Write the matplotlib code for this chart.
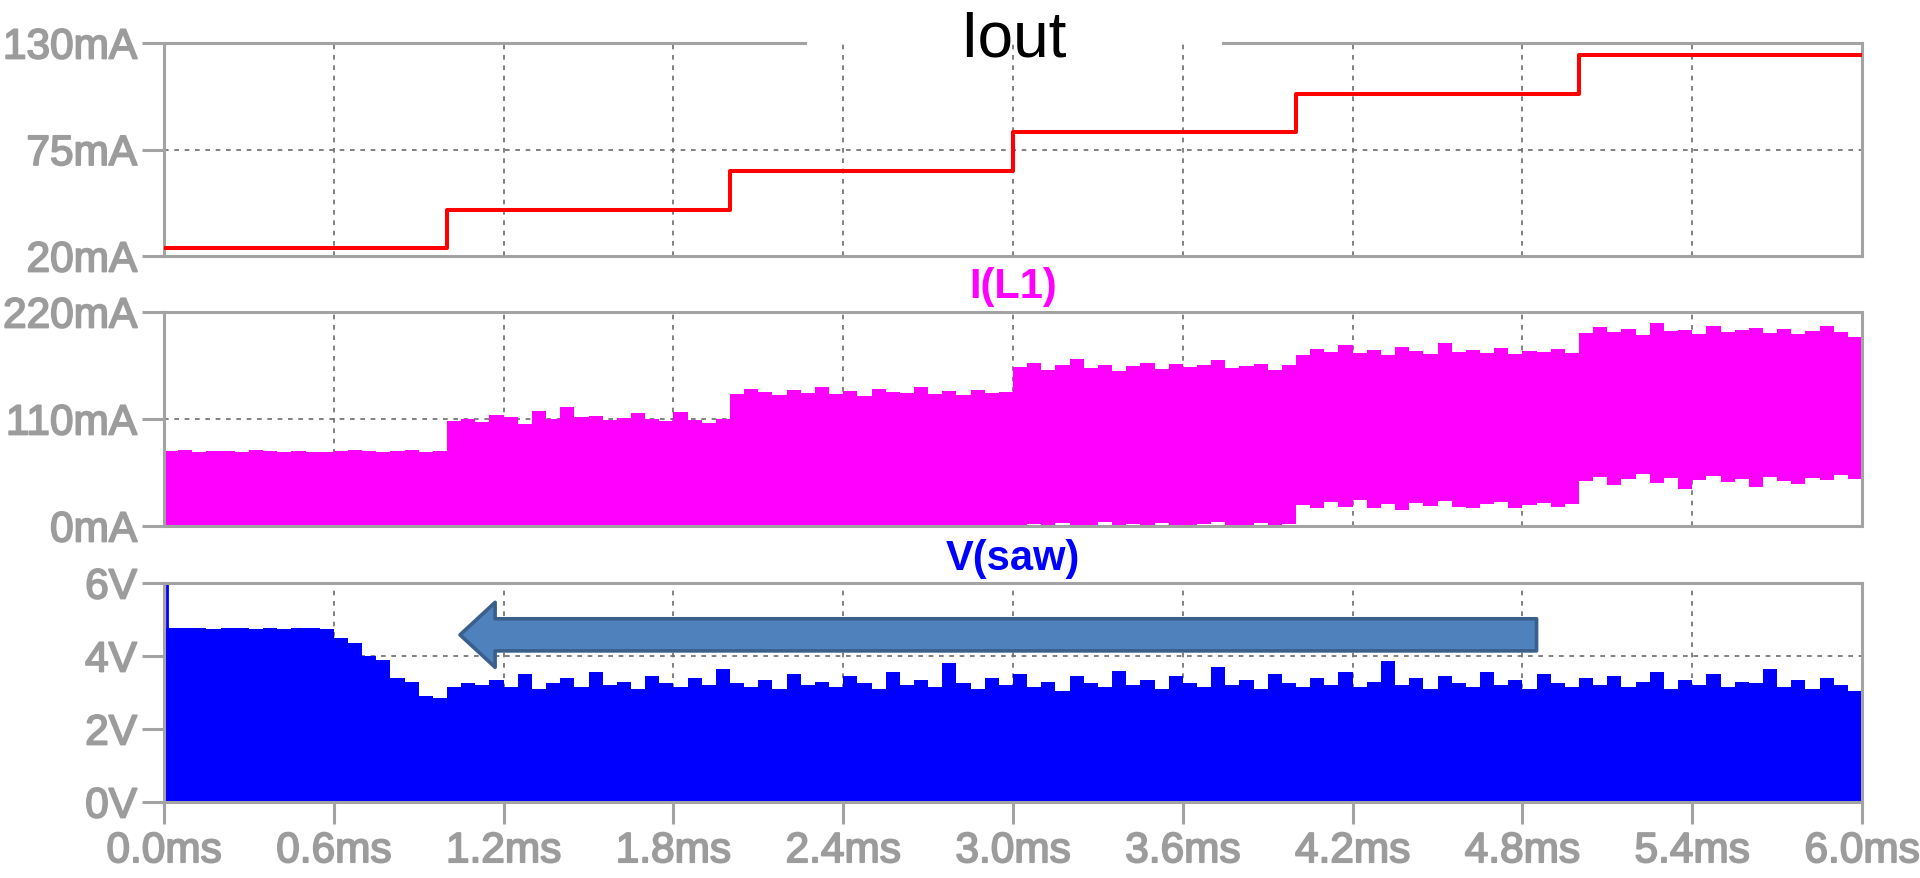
import numpy as np
import matplotlib.pyplot as plt
import matplotlib.patheffects as pe
from matplotlib.patches import FancyArrow

plt.rcParams['font.family'] = ['Liberation Sans', 'DejaVu Sans']

# time axis, ms
t_ticks = [0.0, 0.6, 1.2, 1.8, 2.4, 3.0, 3.6, 4.2, 4.8, 5.4, 6.0]
t_labels = ['0.0ms', '0.6ms', '1.2ms', '1.8ms', '2.4ms', '3.0ms',
            '3.6ms', '4.2ms', '4.8ms', '5.4ms', '6.0ms']

# Iout load steps (mA)
iout_t = [0, 1, 2, 3, 4, 5, 6]
iout_ma = [24.3, 44.0, 64.0, 84.0, 103.7, 123.6]
iout_ticks = [20, 75, 130]
iout_labels = ['20mA', '75mA', '130mA']

# I(L1) ripple envelope, read every 0.05 ms (mA)
il1_top = [77, 78, 76, 77, 77, 76, 78, 77, 76, 77, 76, 76, 77, 78, 77, 76, 77, 78, 76, 77,
           108, 110, 107, 114, 112, 105, 118, 110, 122, 112, 113, 109, 111, 116, 110, 108, 117, 109, 106, 110,
           136, 141, 138, 135, 140, 137, 143, 136, 139, 134, 141, 138, 137, 143, 136, 139, 135, 140, 137, 138,
           163, 168, 160, 165, 172, 162, 166, 159, 164, 168, 161, 167, 163, 165, 171, 162, 164, 167, 160, 165,
           176, 182, 179, 186, 178, 181, 176, 184, 180, 177, 188, 179, 181, 178, 183, 177, 180, 179, 182, 178,
           198, 205, 199, 203, 196, 209, 200, 202, 197, 206, 199, 201, 204, 198, 203, 197, 200, 206, 199, 194]
il1_bot = [0] * 60 + \
          [0, 2, 0, 3, 0, 1, 4, 0, 2, 0, 3, 1, 0, 2, 4, 0, 1, 3, 0, 2,
           22, 18, 25, 20, 27, 19, 23, 16, 24, 21, 26, 20, 18, 23, 25, 19, 22, 24, 20, 23,
           46, 50, 42, 48, 53, 44, 49, 38, 47, 51, 45, 48, 40, 50, 46, 43, 49, 47, 52, 48]
il1_ticks = [0, 110, 220]
il1_labels = ['0mA', '110mA', '220mA']

# V(saw) envelope, read every 0.05 ms (V)
vsaw_top = [4.77, 4.76, 4.77, 4.75, 4.76, 4.76, 4.75, 4.76, 4.75, 4.76, 4.76, 4.75,
            4.5, 4.35, 4.0, 3.9, 3.4, 3.3, 2.9, 2.85, 3.15, 3.25,
            3.2, 3.35, 3.15, 3.5, 3.1, 3.25, 3.4, 3.15, 3.55, 3.2,
            3.3, 3.1, 3.45, 3.25, 3.15, 3.4, 3.2, 3.65, 3.25, 3.15,
            3.35, 3.1, 3.5, 3.2, 3.3, 3.15, 3.45, 3.25, 3.1, 3.55,
            3.2, 3.35, 3.15, 3.8, 3.25, 3.1, 3.4, 3.2, 3.5, 3.15,
            3.3, 3.05, 3.45, 3.25, 3.15, 3.6, 3.2, 3.35, 3.1, 3.45,
            3.25, 3.15, 3.7, 3.2, 3.35, 3.1, 3.5, 3.25, 3.15, 3.4,
            3.2, 3.55, 3.15, 3.3, 3.85, 3.2, 3.4, 3.1, 3.45, 3.25,
            3.15, 3.55, 3.2, 3.35, 3.1, 3.5, 3.25, 3.15, 3.4, 3.2,
            3.45, 3.15, 3.3, 3.55, 3.1, 3.35, 3.2, 3.5, 3.15, 3.3,
            3.25, 3.65, 3.15, 3.35, 3.1, 3.4, 3.2, 3.05]
vsaw_spike = 6.0
vsaw_ticks = [0, 2, 4, 6]
vsaw_labels = ['0V', '2V', '4V', '6V']

# annotation arrow (ms, V)
arrow_tail = (4.85, 4.58)
arrow_tip = 1.046

edges = np.linspace(0, 6, len(il1_top) + 1)

GRAY = '#9c9c9c'
SPINE = '#a3a3a3'
GRID = '#6c6c6c'
thick = [pe.withStroke(linewidth=1.3, foreground=GRAY)]

fig = plt.figure(figsize=(19.2, 8.79), dpi=100)
ax1 = fig.add_axes([0.08542, 0.70762, 0.88438, 0.24232])
ax2 = fig.add_axes([0.08542, 0.40046, 0.88438, 0.24346])
ax3 = fig.add_axes([0.08542, 0.08646, 0.88438, 0.24915])


def style(ax, yticks, ylabels, show_x):
    ax.set_xlim(0, 6)
    ax.set_ylim(yticks[0], yticks[-1])
    ax.set_xticks(t_ticks)
    ax.set_yticks(yticks)
    ax.set_yticklabels(ylabels)
    if show_x:
        ax.set_xticklabels(t_labels)
        ax.tick_params(axis='x', length=16, width=2.2, color=SPINE, pad=5)
    else:
        ax.set_xticklabels([])
        ax.tick_params(axis='x', length=0)
    ax.tick_params(axis='y', length=16, width=2.2, color=SPINE, pad=3.5)
    ax.tick_params(labelsize=30.5, labelcolor=GRAY)
    for lab in ax.get_xticklabels() + ax.get_yticklabels():
        lab.set_path_effects(thick)
    for sp in ax.spines.values():
        sp.set_color(SPINE)
        sp.set_linewidth(2.2)
    ax.grid(axis='x', color=GRID, linestyle=(0, (2.8, 3.4)), linewidth=1.2)
    for y in yticks[1:-1]:
        ax.axhline(y, color=GRID, linestyle=(0, (2.8, 3.4)), linewidth=1.2, zorder=0.5)
    ax.set_axisbelow(True)


style(ax1, iout_ticks, iout_labels, False)
style(ax2, il1_ticks, il1_labels, False)
style(ax3, vsaw_ticks, vsaw_labels, True)

# Iout
ax1.step(iout_t, iout_ma + [iout_ma[-1]], where='post', color='#ff0000', linewidth=2.9, zorder=3)
ax1.spines['top'].set_visible(False)
ax1.plot([0, 0.3775], [1, 1], transform=ax1.transAxes, color=SPINE, linewidth=2.2, clip_on=False)
ax1.plot([0.6237, 1], [1, 1], transform=ax1.transAxes, color=SPINE, linewidth=2.2, clip_on=False)

# I(L1)
ax2.stairs(il1_top, edges, baseline=il1_bot, fill=True, color='#ff00ff', zorder=1)

# V(saw)
ax3.stairs(vsaw_top, edges, baseline=0, fill=True, color='#0000ff', zorder=1)
ax3.vlines(0.012, 0, vsaw_spike, color='#0000ff', linewidth=2, zorder=1)

arr = FancyArrow(arrow_tail[0], arrow_tail[1], arrow_tip - arrow_tail[0], 0,
                 width=0.88, head_width=1.78, head_length=0.124,
                 length_includes_head=True, facecolor='#4f81bd', edgecolor='#3a5f8b',
                 linewidth=2.6, joinstyle='round', zorder=4)
ax3.add_patch(arr)

fig.text(0.5276, 0.9352, 'Iout', fontsize=46, color='black', ha='center', va='baseline')
fig.text(0.5276, 0.661, 'I(L1)', fontsize=30, fontweight='bold', color='#ff00ff',
         ha='center', va='baseline')
fig.text(0.5276, 0.3515, 'V(saw)', fontsize=30, fontweight='bold', color='#0000ff',
         ha='center', va='baseline')

fig.savefig('out.png', dpi=100)
